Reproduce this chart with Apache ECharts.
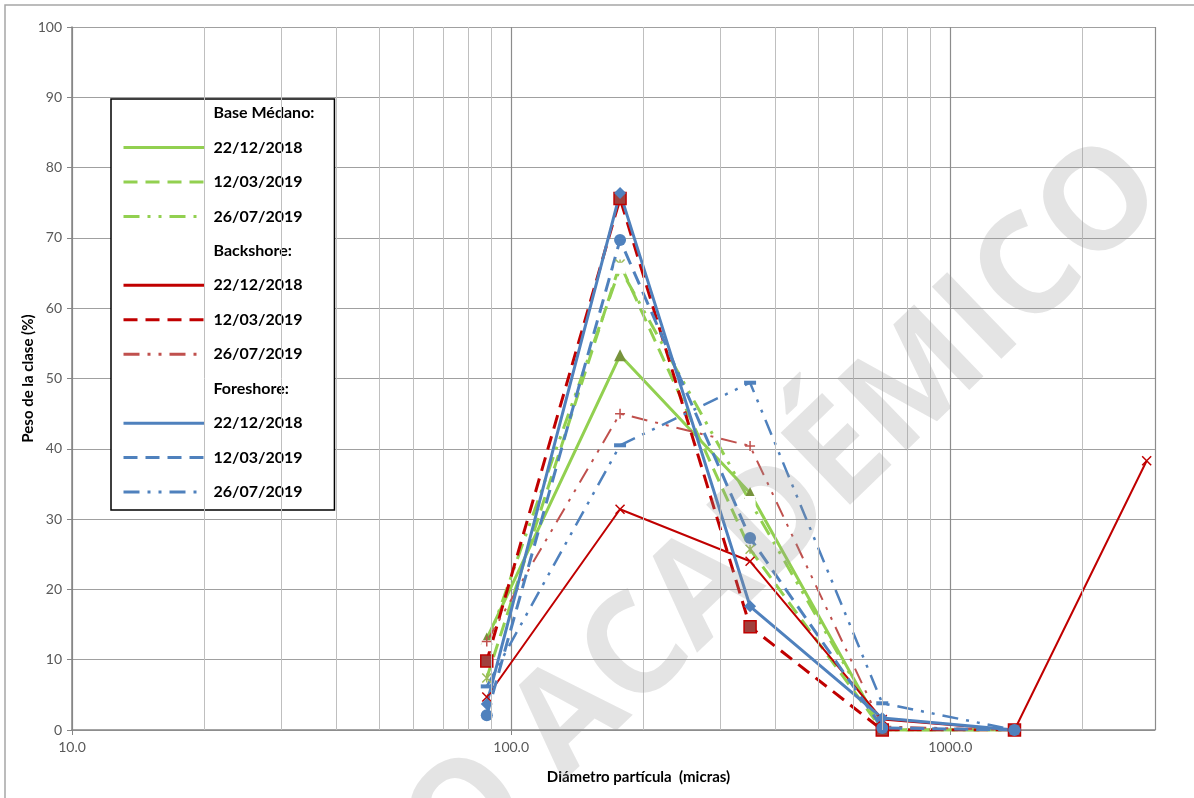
<!DOCTYPE html>
<html>
<head>
<meta charset="utf-8">
<script src="https://cdn.jsdelivr.net/npm/echarts@6/dist/echarts.min.js"></script>
<style>
  html, body { margin: 0; padding: 0; background: #fff; }
  #chart { width: 1194px; height: 798px; }
</style>
</head>
<body>
<div id="chart"></div>
<script>
// diametros de tamiz (micras)
var diameters = [88, 177, 350, 700, 1400, 2800];
var minorGrid = [20, 30, 40, 50, 60, 70, 80, 90, 200, 300, 400, 500, 600, 700, 800, 900, 2000];

// Base Médano
var base_1 = [13.0, 53.3, 33.7, 0, 0];
var base_2 = [7.4, 66.3, 25.7, 0, 0];
var base_3 = [12.0, 65.7, 32.5, 0, 0];
// Backshore
var back_1 = [4.7, 31.4, 24.0, 1.5, 0, 38.3];
var back_2 = [9.8, 75.6, 14.7, 0, 0];
var back_3 = [12.6, 45.0, 40.4, 0.5, 0];
// Foreshore
var fore_1 = [3.7, 76.4, 17.6, 1.7, 0];
var fore_2 = [2.1, 69.7, 27.3, 0.3, 0];
var fore_3 = [6.2, 40.5, 49.4, 3.8, 0];

var dates = ['22/12/2018', '12/03/2019', '26/07/2019'];
var groups = ['Base Médano:', 'Backshore:', 'Foreshore:'];

var GREEN = '#92D050', RED = '#C00000', BLUE = '#4F81BD';
var DASH = [14, 8];
var DASHDOTDOT = [16, 8, 3, 8, 3, 8];

var X_PATH = 'path://M0,0L10,10M10,0L0,10';
var PLUS_PATH = 'path://M5,0L5,10M0,5L10,5';
var STAR_PATH = 'path://M0,0L10,10M10,0L0,10M5,0L5,10';

function pairs(vals) {
  return vals.map(function (v, i) { return [diameters[i], v]; });
}

function lineSeries(group, date, vals, color, width, type, symbol, size, fill, stroke) {
  return {
    name: group + '|' + date,
    type: 'line',
    data: pairs(vals),
    symbol: symbol,
    symbolSize: size,
    lineStyle: { color: color, width: width, type: type },
    itemStyle: { color: fill, borderColor: stroke, borderWidth: stroke ? 1.5 : 0 },
    emphasis: { disabled: true },
    z: 3
  };
}

function header(name) {
  return { name: name, type: 'line', data: [], symbol: 'none',
           lineStyle: { width: 0, opacity: 0 }, itemStyle: { color: 'none' } };
}

var series = [
  // rejilla menor del eje logaritmico
  {
    name: 'minor', type: 'line', data: [], silent: true, z: 1,
    markLine: {
      silent: true, symbol: 'none', label: { show: false },
      lineStyle: { color: '#BFBFBF', width: 1, type: 'solid' },
      data: minorGrid.map(function (v) { return { xAxis: v }; })
    }
  },
  header(groups[0]),
  lineSeries(groups[0], dates[0], base_1, GREEN, 3, 'solid', 'triangle', 12, '#77933C', null),
  lineSeries(groups[0], dates[1], base_2, GREEN, 3, DASH, STAR_PATH, 9, 'none', '#9BBB59'),
  lineSeries(groups[0], dates[2], base_3, GREEN, 3, DASHDOTDOT, 'emptyRect', 9, '#fff', '#9BBB59'),
  header(groups[1]),
  lineSeries(groups[1], dates[0], back_1, RED, 2, 'solid', X_PATH, 9, 'none', RED),
  lineSeries(groups[1], dates[1], back_2, RED, 3, DASH, 'rect', 12, '#A0403D', RED),
  lineSeries(groups[1], dates[2], back_3, '#C0504D', 2, DASHDOTDOT, PLUS_PATH, 10, 'none', '#C0504D'),
  header(groups[2]),
  lineSeries(groups[2], dates[0], fore_1, BLUE, 3, 'solid', 'diamond', 12, BLUE, null),
  lineSeries(groups[2], dates[1], fore_2, BLUE, 3, DASH, 'circle', 12, BLUE, null),
  lineSeries(groups[2], dates[2], fore_3, BLUE, 2.5, DASHDOTDOT, 'rect', [12, 4], BLUE, null)
];

var legendData = [];
groups.forEach(function (g) {
  legendData.push(g);
  dates.forEach(function (d) { legendData.push(g + '|' + d); });
});

var chart = echarts.init(document.getElementById('chart'));
chart.setOption({
  animation: false,
  backgroundColor: '#fff',
  textStyle: { fontFamily: 'Lato' },
  grid: { left: 72, top: 27, right: 39, bottom: 68 },
  legend: {
    data: legendData,
    orient: 'vertical',
    left: 111, top: 99,
    padding: [6, 20, 10, 11],
    itemWidth: 81, itemHeight: 14, itemGap: 18.4,
    borderColor: '#000', borderWidth: 1.5,
    backgroundColor: '#fff',
    selectedMode: false,
    itemStyle: { opacity: 0 },
    lineStyle: { width: 3 },
    textStyle: { fontFamily: 'Lato', fontWeight: 'bold', fontSize: 16, color: '#000', padding: [0, 0, 0, 4] },
    formatter: function (name) {
      return name.indexOf('|') >= 0 ? name.split('|')[1] : name;
    }
  },
  xAxis: {
    type: 'log', logBase: 10, min: 10, max: 2925,
    name: 'Diámetro partícula  (micras)',
    nameLocation: 'middle', nameGap: 40,
    nameTextStyle: { fontFamily: 'Lato', fontWeight: 'bold', fontSize: 15, color: '#000', padding: [0, 0, 0, 50] },
    axisLine: { lineStyle: { color: '#868686', width: 1.5 } },
    axisTick: { show: true, length: 5, lineStyle: { color: '#868686' } },
    axisLabel: {
      fontSize: 14, color: '#595959', margin: 10, showMaxLabel: false,
      formatter: function (v) {
        var l = Math.log(v) / Math.LN10;
        return Math.abs(l - Math.round(l)) < 1e-6 ? v.toFixed(1) : '';
      }
    },
    splitLine: { show: true, lineStyle: { color: '#8C8C8C', width: 1.2 } }
  },
  yAxis: {
    type: 'value', min: 0, max: 100, interval: 10,
    name: 'Peso de la clase (%)',
    nameLocation: 'middle', nameGap: 36, nameRotate: 90, nameMoveOverlap: false,
    nameTextStyle: { fontFamily: 'Lato', fontWeight: 'bold', fontSize: 15, color: '#000' },
    axisLine: { show: true, lineStyle: { color: '#868686', width: 1.5 } },
    axisTick: { show: true, length: 5, lineStyle: { color: '#868686' } },
    axisLabel: { fontSize: 14, color: '#595959', margin: 10 },
    splitLine: { lineStyle: { color: '#A0A0A0', width: 1.2 } }
  },
  graphic: [
    {
      type: 'rect', z: 0, silent: true,
      shape: { x: 5, y: 5, width: 1300, height: 900 },
      style: { fill: 'none', stroke: '#A6A6A6', lineWidth: 1.5 }
    },
    {
      type: 'text', z: 100, silent: true,
      x: 720, y: 575, rotation: 44 * Math.PI / 180,
      style: {
        text: 'USO ACADÉMICO', fontSize: 140, fontWeight: 'bold', fontFamily: 'Open Sans',
        fill: 'rgba(150,150,150,0.26)', align: 'center', verticalAlign: 'middle'
      }
    }
  ],
  series: series
});
</script>
</body>
</html>
